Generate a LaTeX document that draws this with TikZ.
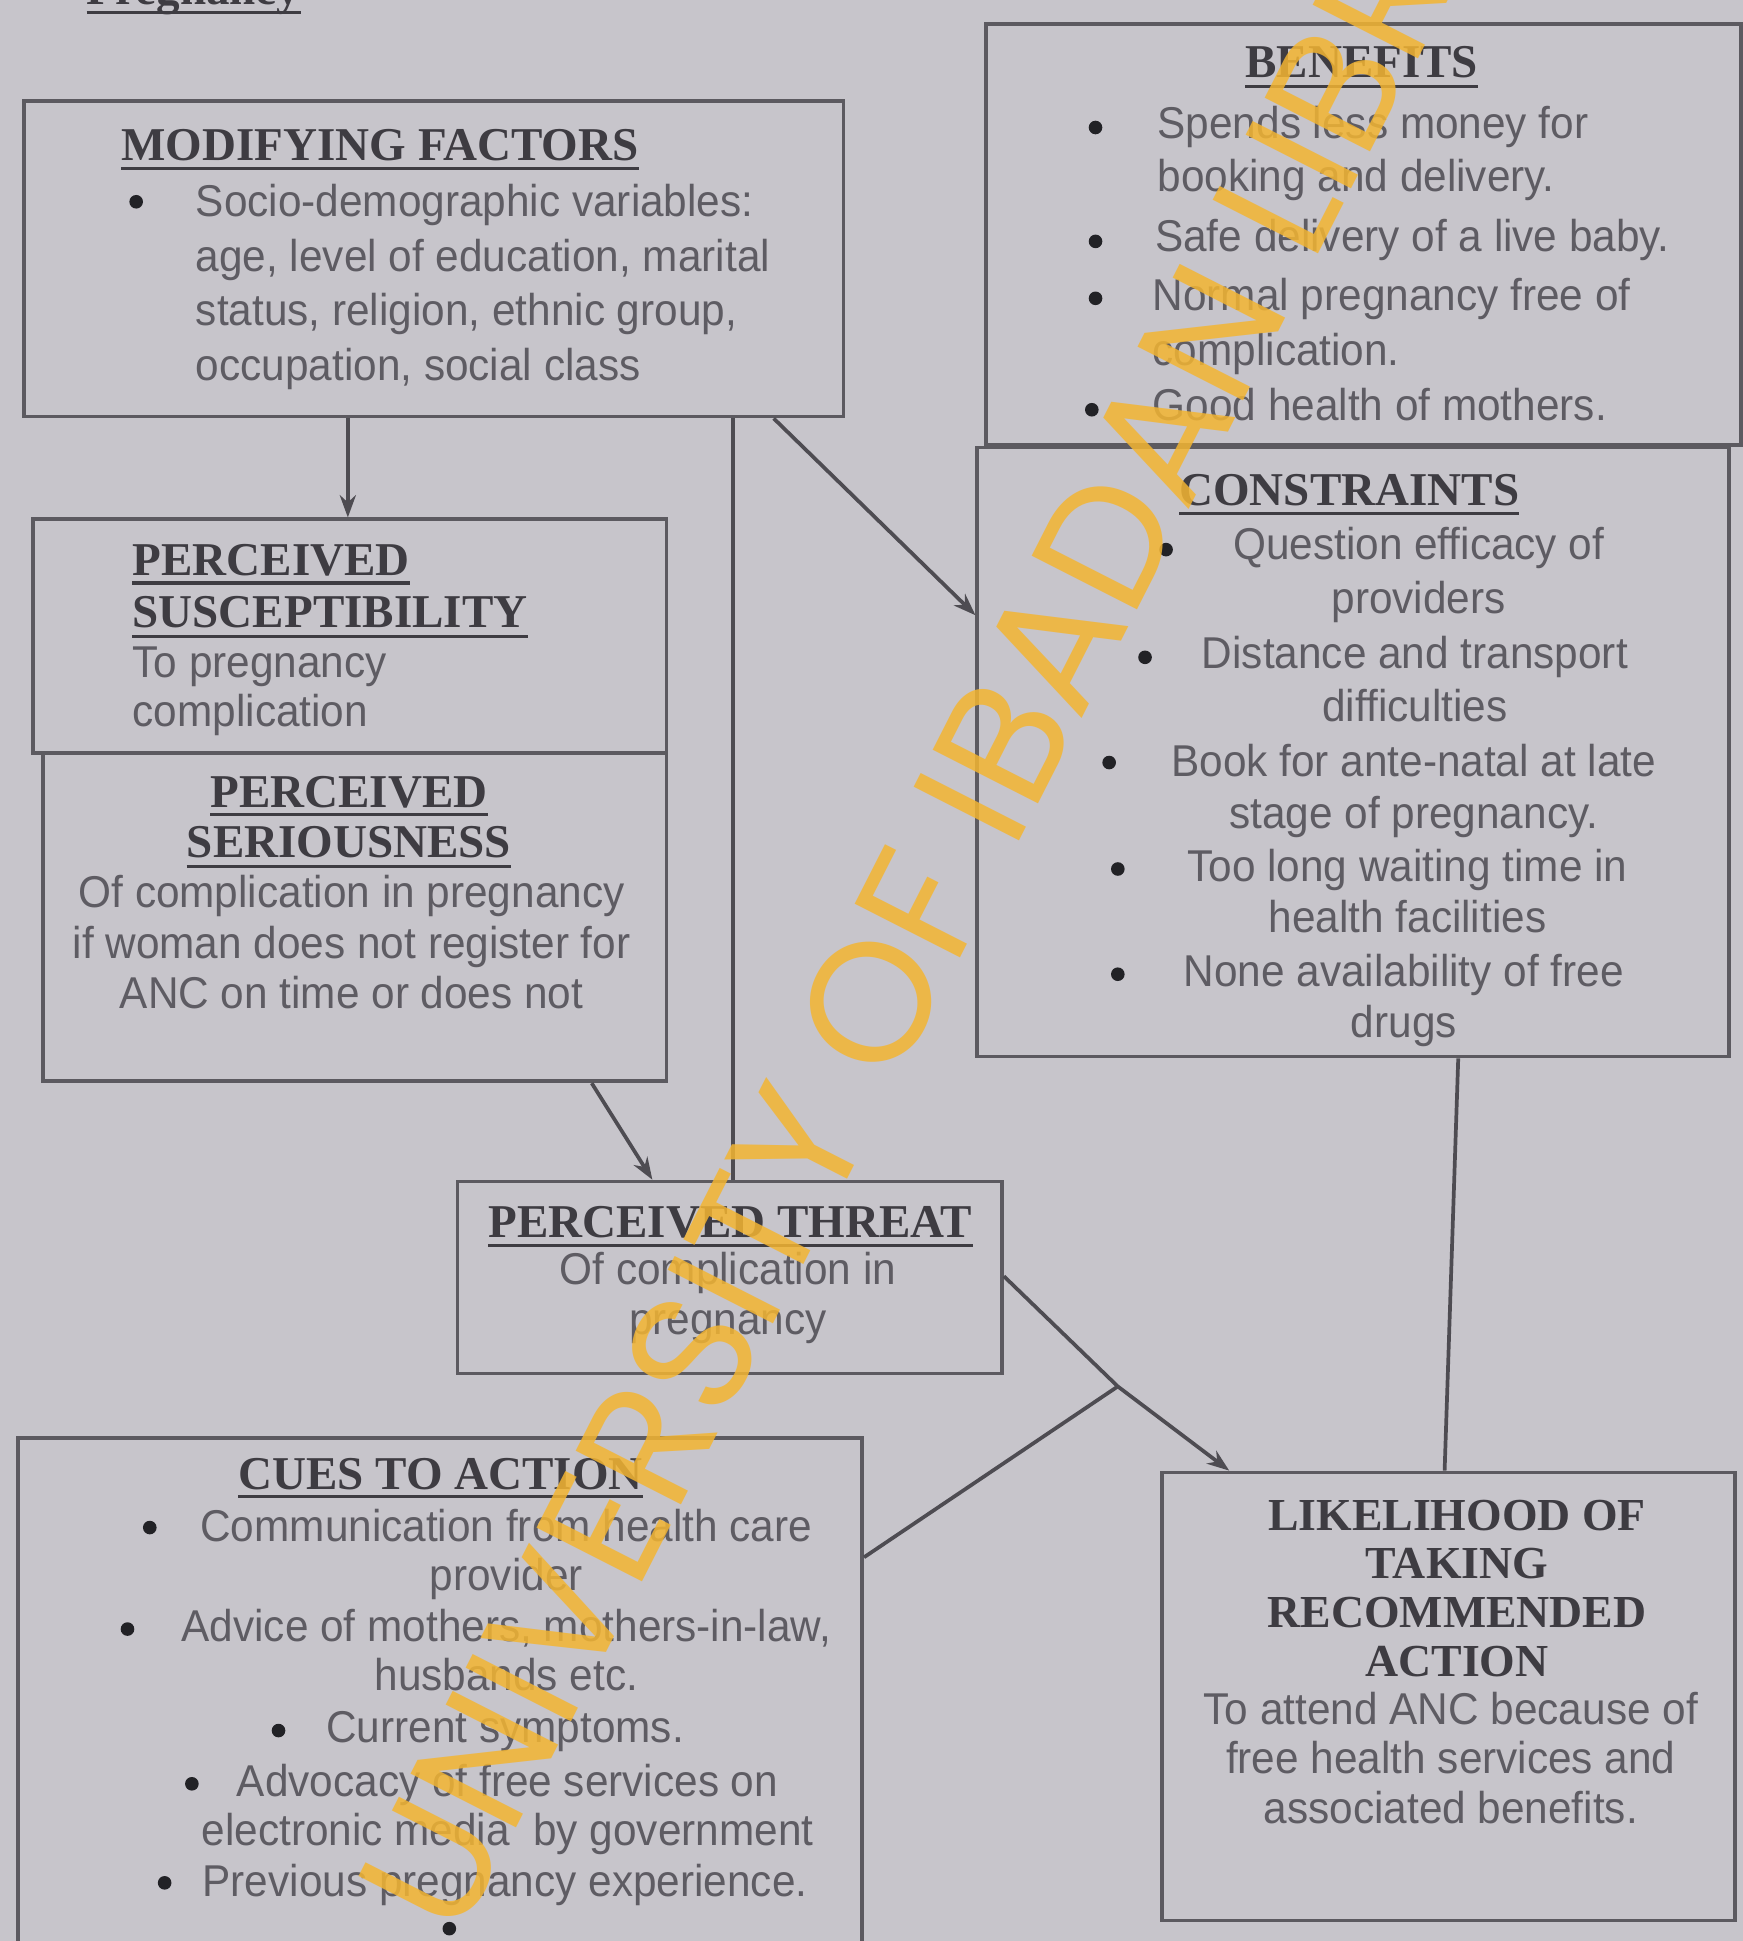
\documentclass[tikz,border=0pt]{standalone}
\usepackage{fontspec}
\setmainfont{Liberation Sans}
\newfontfamily\bodyfont{Liberation Sans}[FakeStretch=0.95]
\newfontfamily\headfont{Liberation Serif}
\newfontfamily\wmfont{Poppins}
\usetikzlibrary{arrows.meta}
\definecolor{bg}{HTML}{C7C5CB}
\definecolor{boxc}{HTML}{5C5A60}
\definecolor{txt}{HTML}{5E5C63}
\definecolor{headc}{HTML}{3E3C42}
\definecolor{bulc}{HTML}{222226}
\definecolor{linec}{HTML}{4E4C52}
\definecolor{wmc}{HTML}{F3B532}
\tikzset{
  box/.style={draw=boxc, line width=3pt, inner sep=0pt, anchor=north west},
  body/.style={text=txt, font=\bodyfont\fontsize{36}{42}\selectfont, inner sep=0pt},
  head/.style={text=headc, font=\headfont\bfseries\fontsize{38}{44}\selectfont, inner sep=0pt},
  blt/.style={circle, fill=bulc, inner sep=0pt, minimum size=11pt},
  ul/.style={draw=headc, line width=2.6pt},
  conn/.style={draw=linec, line width=3pt},
  arr/.style={conn, -{Stealth[length=18pt,width=13pt]}},
  wm/.style={text=wmc, opacity=0.85, font=\wmfont\fontsize{137}{137}\selectfont, inner sep=0pt}
}
\begin{document}
\begin{tikzpicture}[x=1pt,y=-1pt]
\path[use as bounding box] (0,0) rectangle (1408,1568);
\clip (0,0) rectangle (1408,1568);
\fill[bg] (0,0) rectangle (1408,1568);

% cut-off heading at the top
\node[head, anchor=base west] (preg) at (70,4) {Pregnancy};
\draw[ul] ([yshift=-6pt]preg.base west) -- ([yshift=-6pt]preg.base east);

% ---------- boxes ----------
\node[box, minimum width=662pt, minimum height=255pt] (mod) at (18,80) {};
\node[box, minimum width=610pt, minimum height=340pt] (ben) at (795,18) {};
\node[box, minimum width=607pt, minimum height=492pt] (cons) at (788,360) {};
\node[box, minimum width=512pt, minimum height=189pt] (susc) at (25,418) {};
\node[box, minimum width=504pt, minimum height=265pt] (sers) at (33,607) {};
\node[box, minimum width=440pt, minimum height=155pt] (thr) at (368,953) {};
\node[box, minimum width=682pt, minimum height=450pt] (cues) at (13,1160) {};
\node[box, minimum width=463pt, minimum height=362pt] (lik) at (937,1188) {};

% (multi-line nodes: the base anchor is the baseline of their last line)
% ---------- MODIFYING FACTORS ----------
\node[head, anchor=base west] (modT) at (98,130) {MODIFYING FACTORS};
\draw[ul] ([yshift=-6pt]modT.base west) -- ([yshift=-6pt]modT.base east);
\node[blt] (modb1) at (110,163) {};
\node[body, anchor=base west, align=left] (modB) at (158,307)
  {Socio-demographic variables:\\[2pt]age, level of education, marital\\[2pt]status, religion, ethnic group,\\[2pt]occupation, social class};

% ---------- BENEFITS ----------
\node[head, anchor=base] (benT) at (1100,63) {BENEFITS};
\draw[ul] ([yshift=-7pt]benT.base west) -- ([yshift=-7pt]benT.base east);
\node[blt] (benb1) at (885,103) {};
\node[blt] (benb2) at (885,195) {};
\node[blt] (benb3) at (885,241) {};
\node[blt] (benb4) at (882,331) {};
\node[body, anchor=base west, align=left] (ben1) at (935,155) {Spends less money for\\[1pt]booking and delivery.};
\node[body, anchor=base west] (ben2) at (933,203) {Safe delivery of a live baby.};
\node[body, anchor=base west, align=left] (ben3) at (931,295) {Normal pregnancy free of\\[2pt]complication.};
\node[body, anchor=base west] (ben4) at (931,340) {Good health of mothers.};

% ---------- CONSTRAINTS ----------
\node[head, anchor=base] (consT) at (1090,408) {CONSTRAINTS};
\draw[ul] ([yshift=-7pt]consT.base west) -- ([yshift=-7pt]consT.base east);
\node[blt] (consb1) at (942,444) {};
\node[blt] (consb2) at (925,531) {};
\node[blt] (consb3) at (896,616) {};
\node[blt] (consb4) at (903,702) {};
\node[blt] (consb5) at (903,787) {};
\node[body, anchor=base, align=center] (cons1) at (1146,496) {Question efficacy of\\[2pt]providers};
\node[body, anchor=base, align=center] (cons2) at (1143,583) {Distance and transport\\[1pt]difficulties};
\node[body, anchor=base, align=center] (cons3) at (1142,669) {Book for ante-natal at late\\stage of pregnancy.};
\node[body, anchor=base, align=center] (cons4) at (1137,753) {Too long waiting time in\\[-1pt]health facilities};
\node[body, anchor=base, align=center] (cons5) at (1134,838) {None availability of free\\[-1pt]drugs};

% ---------- PERCEIVED SUSCEPTIBILITY ----------
\node[head, anchor=base west] (suscT1) at (107,465) {PERCEIVED};
\draw[ul] ([yshift=-6pt]suscT1.base west) -- ([yshift=-6pt]suscT1.base east);
\node[head, anchor=base west] (suscT2) at (107,507) {SUSCEPTIBILITY};
\draw[ul] ([yshift=-7pt]suscT2.base west) -- ([yshift=-7pt]suscT2.base east);
\node[body, anchor=base west, align=left] (suscB) at (107,587) {To pregnancy\\[-2pt]complication};

% ---------- PERCEIVED SERIOUSNESS ----------
\node[head, anchor=base] (sersT1) at (282,652) {PERCEIVED};
\draw[ul] ([yshift=-6pt]sersT1.base west) -- ([yshift=-6pt]sersT1.base east);
\node[head, anchor=base] (sersT2) at (282,693) {SERIOUSNESS};
\draw[ul] ([yshift=-7pt]sersT2.base west) -- ([yshift=-7pt]sersT2.base east);
\node[body, anchor=base, align=center] (sersB) at (284,815)
  {Of complication in pregnancy\\[-1pt]if woman does not register for\\[-1pt]ANC on time or does not};

% ---------- PERCEIVED THREAT ----------
\node[head, anchor=base] (thrT) at (590,1000) {PERCEIVED THREAT};
\draw[ul] ([yshift=-6pt]thrT.base west) -- ([yshift=-6pt]thrT.base east);
\node[body, anchor=base, align=center] (thrB) at (588,1078) {Of complication in\\[-2pt]pregnancy};

% ---------- CUES TO ACTION ----------
\node[head, anchor=base] (cuesT) at (356,1203) {CUES TO ACTION};
\draw[ul] ([yshift=-6pt]cuesT.base west) -- ([yshift=-6pt]cuesT.base east);
\node[blt] (cuesb1) at (121,1234) {};
\node[blt] (cuesb2) at (103,1316) {};
\node[blt] (cuesb3) at (225,1398) {};
\node[blt] (cuesb4) at (155,1441) {};
\node[blt] (cuesb5) at (133,1521) {};
\node[blt] (cuesb6) at (363,1558) {};
\node[body, anchor=base, align=center] (cues1) at (409,1285) {Communication from health care\\[-2pt]provider};
\node[body, anchor=base, align=center] (cues2) at (409,1366) {Advice of mothers, mothers-in-law,\\[-2pt]husbands etc.};
\node[body, anchor=base] (cues3) at (408,1408) {Current symptoms.};
\node[body, anchor=base, align=center] (cues4) at (410,1491) {Advocacy of free services on\\[-2pt]electronic media\ \ by government};
\node[body, anchor=base] (cues5) at (408,1532) {Previous pregnancy experience.};

% ---------- LIKELIHOOD ----------
\node[head, anchor=base, align=center, font=\headfont\bfseries\fontsize{37}{39.3}\selectfont] (likT) at (1177,1354)
  {LIKELIHOOD OF\\TAKING\\RECOMMENDED\\ACTION};
\node[body, anchor=base, align=center] (likB) at (1172,1473)
  {To attend ANC because of\\[-2pt]free health services and\\[-2pt]associated benefits.};

% ---------- connectors ----------
\draw[arr] ([xshift=263pt]mod.south west) -- ([xshift=256pt]susc.north west);
\draw[conn] ([xshift=574pt]mod.south west) -- ([xshift=224pt]thr.north west);
\draw[arr] ([xshift=607pt]mod.south west) -- ([yshift=-137pt]cons.north west);
\draw[arr] ([xshift=445pt]sers.south west) -- ([xshift=159pt]thr.north west);
\coordinate (jn) at (903,1120);
\draw[arr] ([yshift=-78pt]thr.north east) -- (jn) -- ([xshift=56pt]lik.north west);
\draw[conn] ([yshift=-98pt]cues.north east) -- (jn);
\draw[conn] ([xshift=-220pt]cons.south east) -- ([xshift=230pt]lik.north west);

% ---------- watermark ----------
\node[wm, rotate=63] (wmark) at (790,640) {UNIVERSITY OF IBADAN LIBRARY};
\end{tikzpicture}
\end{document}
